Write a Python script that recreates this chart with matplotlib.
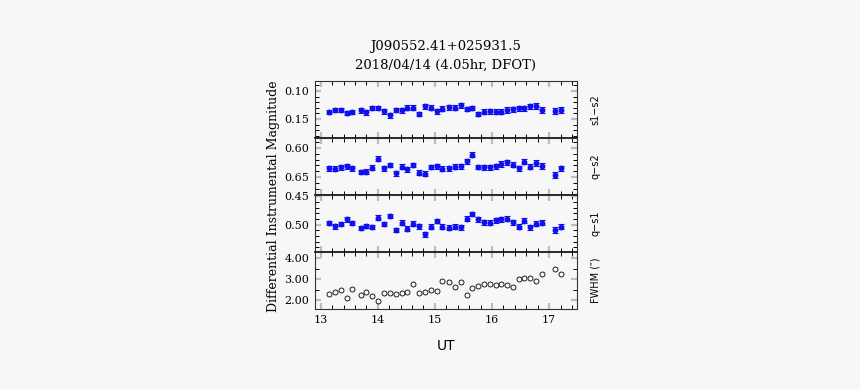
"""
J090552.41+025931.5 差分测光光变曲线 (2018/04/14, DFOT)
"""
import matplotlib
matplotlib.use('Agg')
import matplotlib.pyplot as plt
from matplotlib.ticker import MultipleLocator, FormatStrFormatter

plt.rcParams['font.family'] = ['DejaVu Serif']

# UT 时间 (小时)
ut = [13.146, 13.251, 13.351, 13.456, 13.556, 13.702, 13.801, 13.906, 14.006, 14.105,
      14.211, 14.316, 14.415, 14.515, 14.620, 14.719, 14.825, 14.924, 15.029, 15.129,
      15.251, 15.351, 15.456, 15.556, 15.655, 15.760, 15.860, 15.965, 16.064, 16.164,
      16.269, 16.368, 16.468, 16.567, 16.672, 16.778, 16.883, 17.099, 17.211]

s1_s2 = [0.1376, 0.1340, 0.1340, 0.1390, 0.1376, 0.1347, 0.1380, 0.1300, 0.1300, 0.1365,
         0.1435, 0.1335, 0.1347, 0.1300, 0.1300, 0.1406, 0.1276, 0.1300, 0.1365, 0.1318,
         0.1294, 0.1300, 0.1253, 0.1318, 0.1300, 0.1410, 0.1370, 0.1359, 0.1370, 0.1370,
         0.1340, 0.1324, 0.1310, 0.1306, 0.1270, 0.1270, 0.1340, 0.1353, 0.1335]

q_s2 = [0.6353, 0.6359, 0.6335, 0.6318, 0.6353, 0.6412, 0.6412, 0.6341, 0.6182, 0.6353,
        0.6294, 0.6435, 0.6324, 0.6371, 0.6294, 0.6424, 0.6447, 0.6329, 0.6318, 0.6359,
        0.6353, 0.6324, 0.6312, 0.6229, 0.6118, 0.6329, 0.6335, 0.6335, 0.6312, 0.6276,
        0.6247, 0.6288, 0.6353, 0.6235, 0.6324, 0.6259, 0.6312, 0.6459, 0.6353]

q_s1 = [0.4970, 0.5030, 0.4994, 0.4910, 0.4970, 0.5059, 0.5024, 0.5041, 0.4876, 0.4988,
        0.4853, 0.5100, 0.4965, 0.5071, 0.4988, 0.5030, 0.5170, 0.5035, 0.4941, 0.5041,
        0.5059, 0.5035, 0.5047, 0.4894, 0.4818, 0.4910, 0.4959, 0.4965, 0.4924, 0.4906,
        0.4900, 0.4959, 0.5041, 0.4929, 0.5047, 0.4982, 0.4965, 0.5100, 0.5035]

# 误差 (mag)
err = [0.0040, 0.0040, 0.0040, 0.0038, 0.0038, 0.0040, 0.0042, 0.0040, 0.0040, 0.0040,
       0.0040, 0.0040, 0.0040, 0.0042, 0.0042, 0.0040, 0.0042, 0.0042, 0.0040, 0.0042,
       0.0044, 0.0044, 0.0044, 0.0040, 0.0040, 0.0042, 0.0042, 0.0044, 0.0044, 0.0044,
       0.0046, 0.0046, 0.0046, 0.0046, 0.0046, 0.0048, 0.0048, 0.0050, 0.0050]

fwhm = [2.30, 2.37, 2.50, 2.11, 2.54, 2.22, 2.37, 2.19, 1.97, 2.34,
        2.34, 2.30, 2.32, 2.37, 2.75, 2.35, 2.37, 2.48, 2.43, 2.93,
        2.85, 2.64, 2.86, 2.26, 2.59, 2.67, 2.75, 2.75, 2.70, 2.77,
        2.74, 2.64, 2.99, 3.07, 3.07, 2.91, 3.22, 3.50, 3.23]

panel_labels = ['s1\u2212s2', 'q\u2212s2', 'q\u2212s1', 'FWHM (\u2033)']
mag_series = [s1_s2, q_s2, q_s1]
mag_limits = [(0.184, 0.082), (0.681, 0.583), (0.5485, 0.448)]
bg = '#f7f7f7'

fig = plt.figure(figsize=(8.6, 3.9), dpi=100, facecolor=bg)
axes = []
top, h = 0.7923, 0.1462
for i in range(4):
    ax = fig.add_axes([0.3663, top - (i + 1) * h, 0.3047, h], facecolor=bg)
    axes.append(ax)

for i, ax in enumerate(axes):
    if i < 3:
        y = mag_series[i]
        ax.errorbar(ut, y, yerr=err, fmt='none', ecolor='#bcbcf0', elinewidth=2.6,
                    capsize=0, zorder=2)
        ax.errorbar(ut, y, yerr=err, fmt='o', color='#1010ee', ms=3.2, mec='#1010ee',
                    ecolor='#1010ee', elinewidth=0.8, capsize=2, capthick=0.8, zorder=3)
        ax.set_ylim(*mag_limits[i])
        ax.yaxis.set_major_locator(MultipleLocator(0.05))
        ax.yaxis.set_minor_locator(MultipleLocator(0.01))
        ax.yaxis.set_major_formatter(FormatStrFormatter('%.2f'))
    else:
        ax.plot(ut, fwhm, 'o', mfc='none', mec='black', ms=3.6, mew=0.6)
        ax.set_ylim(1.57, 4.29)
        ax.yaxis.set_major_locator(MultipleLocator(1.0))
        ax.yaxis.set_minor_locator(MultipleLocator(0.5))
        ax.yaxis.set_major_formatter(FormatStrFormatter('%.2f'))

    ax.set_xlim(12.9, 17.49)
    ax.xaxis.set_major_locator(MultipleLocator(1))
    ax.xaxis.set_minor_locator(MultipleLocator(0.2))
    ax.tick_params(which='both', direction='in', top=True, right=True)
    ax.tick_params(which='major', length=4, width=1.6, color='#bdbdbd', labelsize=8,
                   pad=4)
    ax.tick_params(which='minor', length=2.6, width=0.7, color='black')
    for sp in ax.spines.values():
        sp.set_color('#333333')
        sp.set_linewidth(0.8)
    if i < 3:
        ax.tick_params(labelbottom=False)
        ax.spines['bottom'].set_color('black')
        ax.spines['bottom'].set_linewidth(1.2)

    ax.text(1.07, 0.5, panel_labels[i], transform=ax.transAxes, rotation=90,
            ha='center', va='center', fontsize=7, family=['DejaVu Sans'])

axes[-1].set_xlabel('UT', fontsize=10, family=['DejaVu Sans'], labelpad=10)

fig.text(0.3175, 0.4974, 'Differential Instrumental Magnitude', rotation=90,
         ha='center', va='center', fontsize=9)
fig.text(0.5186, 0.882, 'J090552.41+025931.5', ha='center', va='center', fontsize=9.5)
fig.text(0.5186, 0.833, '2018/04/14 (4.05hr, DFOT)', ha='center', va='center',
         fontsize=9.5)

plt.savefig('out.png', dpi=100, facecolor=bg)
plt.close()
